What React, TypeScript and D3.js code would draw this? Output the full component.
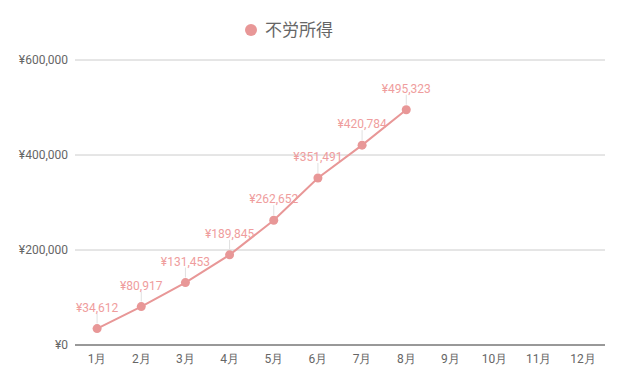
import React, { useEffect, useRef } from 'react';
import * as d3 from 'd3';

const months = ['1月', '2月', '3月', '4月', '5月', '6月', '7月', '8月', '9月', '10月', '11月', '12月'];
const values = [34612, 80917, 131453, 189845, 262652, 351491, 420784, 495323];
const yTicks = [0, 200000, 400000, 600000];
const seriesName = '不労所得';

const width = 625;
const height = 386;
const color = '#e89797';
const labelColor = '#ef9d9d';

export default function App() {
  const ref = useRef<SVGSVGElement>(null);

  useEffect(() => {
    const svg = d3.select(ref.current);
    svg.selectAll('*').remove();

    const left = 75, right = 605, top = 60, bottom = 345;
    const x = d3.scaleBand().domain(months).range([left, right]);
    const y = d3.scaleLinear().domain([0, 600000]).range([bottom, top]);
    const fmt = (v: number) => '¥' + d3.format(',')(v);
    const font = 'Roboto, sans-serif';

    // grid
    svg.append('g').selectAll('line')
      .data(yTicks.filter(t => t > 0))
      .enter().append('line')
      .attr('x1', left).attr('x2', right)
      .attr('y1', d => y(d)).attr('y2', d => y(d))
      .attr('stroke', '#cccccc').attr('stroke-width', 1);

    svg.append('g').selectAll('text')
      .data(yTicks)
      .enter().append('text')
      .attr('x', left - 7)
      .attr('y', d => y(d) + 4)
      .attr('text-anchor', 'end')
      .attr('font-family', font).attr('font-size', 12)
      .attr('fill', '#666')
      .text(d => fmt(d));

    // baseline
    svg.append('line')
      .attr('x1', left).attr('x2', right)
      .attr('y1', bottom).attr('y2', bottom)
      .attr('stroke', '#333').attr('stroke-width', 1);

    svg.append('g').selectAll('text')
      .data(months)
      .enter().append('text')
      .attr('x', d => (x(d) as number) + x.bandwidth() / 2)
      .attr('y', bottom + 18)
      .attr('text-anchor', 'middle')
      .attr('font-family', font).attr('font-size', 12)
      .attr('fill', '#666')
      .text(d => d);

    const cx = (i: number) => (x(months[i]) as number) + x.bandwidth() / 2;

    // leader lines
    svg.append('g').selectAll('line')
      .data(values)
      .enter().append('line')
      .attr('x1', (d, i) => cx(i)).attr('x2', (d, i) => cx(i))
      .attr('y1', d => y(d) - 15).attr('y2', d => y(d) - 5)
      .attr('stroke', '#e0e0e0').attr('stroke-width', 1);

    const line = d3.line<number>()
      .x((d, i) => cx(i))
      .y(d => y(d));
    svg.append('path')
      .datum(values)
      .attr('d', line)
      .attr('fill', 'none')
      .attr('stroke', color)
      .attr('stroke-width', 2);

    svg.append('g').selectAll('circle')
      .data(values)
      .enter().append('circle')
      .attr('cx', (d, i) => cx(i))
      .attr('cy', d => y(d))
      .attr('r', 4.5)
      .attr('fill', color);

    svg.append('g').selectAll('text')
      .data(values)
      .enter().append('text')
      .attr('x', (d, i) => cx(i))
      .attr('y', d => y(d) - 17)
      .attr('text-anchor', 'middle')
      .attr('font-family', font).attr('font-size', 12)
      .attr('fill', labelColor)
      .text(d => fmt(d));

    // legend
    svg.append('circle')
      .attr('cx', 251).attr('cy', 30).attr('r', 6)
      .attr('fill', color);
    svg.append('text')
      .attr('x', 265).attr('y', 36)
      .attr('font-family', '"Noto Sans CJK JP", sans-serif')
      .attr('font-size', 17)
      .attr('fill', '#666')
      .text(seriesName);
  }, []);

  return (
    <div style={{ position: 'absolute', left: 0, top: 0 }}>
      <svg ref={ref} width={width} height={height} style={{ display: 'block', background: '#fff' }} />
    </div>
  );
}
